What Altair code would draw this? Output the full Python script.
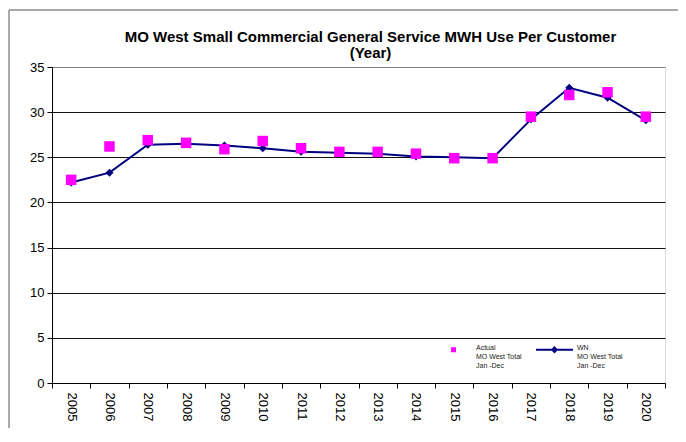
import altair as alt
import pandas as pd

years = [str(y) for y in range(2005, 2021)]
actual = [22.5, 26.2, 26.9, 26.6, 25.9, 26.8, 26.0, 25.6, 25.6, 25.4, 24.9, 24.9, 29.5, 31.9, 32.2, 29.5]
wn = [22.2, 23.3, 26.4, 26.5, 26.3, 26.0, 25.6, 25.5, 25.4, 25.1, 25.0, 24.9, 29.2, 32.7, 31.6, 29.1]
series_names = ["Actual", "WN"]
y_ticks = [0, 5, 10, 15, 20, 25, 30, 35]

df = pd.DataFrame({
    "year": years * 2,
    "series": ["Actual"] * len(years) + ["WN"] * len(years),
    "value": actual + wn,
})

FONT = "Liberation Sans"
MAGENTA = "#FF00FF"
NAVY = "#000080"

x_enc = alt.X("year:O", sort=years, axis=alt.Axis(
    title=None, labelAngle=90, tickBand="extent", labelFontSize=13, labelFont=FONT,
    labelColor="#000", domainColor="#000", tickColor="#000", tickSize=5, labelPadding=4,
    grid=False))
y_enc = alt.Y("value:Q", scale=alt.Scale(domain=[0, 35], nice=False), axis=alt.Axis(
    title=None, values=y_ticks, labelFontSize=13, labelFont=FONT, labelColor="#000",
    domainColor="#000", tickColor="#000", tickSize=5, labelPadding=3,
    grid=True, gridColor={"condition": {"test": "datum.value === 35", "value": "#808080"}, "value": "#111111"},
    gridWidth=1))

base = alt.Chart(df)

line = base.transform_filter("datum.series == 'WN'").mark_line(
    color=NAVY, strokeWidth=2).encode(x=x_enc, y=y_enc)
diamonds = base.transform_filter("datum.series == 'WN'").mark_point(
    shape="diamond", filled=True, color=NAVY, size=64, opacity=1).encode(x=x_enc, y=y_enc)
squares = base.transform_filter("datum.series == 'Actual'").mark_square(
    color=MAGENTA, size=110, opacity=1).encode(x=x_enc, y=y_enc)

sq_path = "M-0.08,-0.08H0.08V0.08H-0.08Z"
wn_path = "M-1,0H1M0,-0.12L0.12,0L0,0.12L-0.12,0Z"
label_expr = ("datum.label == 'Actual' ? ['Actual','MO West Total','Jan -Dec'] "
              ": ['WN','MO West Total','Jan -Dec']")
legend_layer = base.transform_filter("datum.series == 'none'").mark_point(
    filled=True, opacity=1).encode(
    x=x_enc, y=y_enc,
    fill=alt.Fill("series:N", scale=alt.Scale(domain=series_names, range=[MAGENTA, NAVY]),
                  legend=alt.Legend(title=None, orient="none", legendX=382, legendY=263,
                                    direction="horizontal", columns=2, columnPadding=10,
                                    symbolSize=1369, symbolStrokeWidth=2, labelOffset=3,
                                    labelFontSize=7, labelFont=FONT, labelColor="#222",
                                    labelBaseline="alphabetic", labelExpr=label_expr, padding=0)),
    stroke=alt.Stroke("series:N", scale=alt.Scale(domain=series_names, range=[MAGENTA, NAVY])),
    shape=alt.Shape("series:N", scale=alt.Scale(domain=series_names, range=[sq_path, wn_path])),
)

frame = alt.Chart(pd.DataFrame({"f": [0]})).mark_rect(
    filled=False, stroke="#555", strokeWidth=1).encode(
    x=alt.value(-43), x2=alt.value(631), y=alt.value(-57), y2=alt.value(400))

chart = alt.layer(frame, line, diamonds, squares, legend_layer).properties(
    width=613, height=316,
    title=alt.TitleParams(
        ["MO West Small Commercial General Service MWH Use Per Customer", "(Year)"],
        font=FONT, fontSize=15, fontWeight="bold", color="#000", anchor="middle",
        dx=12, offset=-51, lineHeight=16),
    autosize=alt.AutoSizeParams(type="none"),
    padding={"left": 44, "top": 59, "right": 13, "bottom": 45},
).configure_view(stroke="#808080", strokeWidth=1.5).configure(background="white")

chart.save("out.html", embed_options={"renderer": "svg", "actions": False})
